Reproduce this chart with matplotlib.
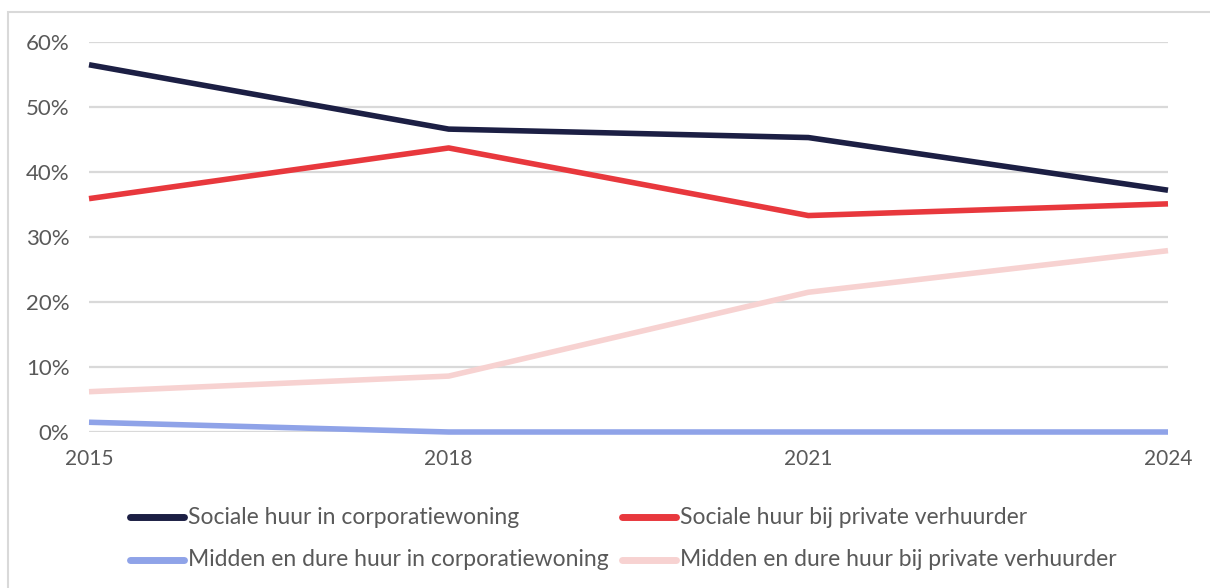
import matplotlib.pyplot as plt
from matplotlib.patches import Rectangle
from matplotlib.lines import Line2D

plt.rcParams['font.family'] = ['Lato', 'DejaVu Sans']

# data (percentages)
jaren = [2015, 2018, 2021, 2024]
sociaal_corp = [56.5, 46.6, 45.3, 37.2]
sociaal_priv = [35.9, 43.7, 33.3, 35.1]
midden_corp = [1.5, 0.0, 0.0, 0.0]
midden_priv = [6.2, 8.6, 21.5, 27.9]

namen = ["Sociale huur in corporatiewoning",
         "Sociale huur bij private verhuurder",
         "Midden en dure huur in corporatiewoning",
         "Midden en dure huur bij private verhuurder"]
kleuren = ["#1c1f44", "#e8383d", "#8fa3e8", "#f7d2d1"]
reeksen = [sociaal_corp, sociaal_priv, midden_corp, midden_priv]

fig = plt.figure(figsize=(12.1, 5.88), dpi=100)
ax = fig.add_axes([89/1210, 1-432/588, (1168-89)/1210, (432-42)/588])

# frame around the figure (partly cut off at right/bottom)
fig.patches.append(Rectangle((8/1210, -0.1), 1.2, 1-12/588+0.1, transform=fig.transFigure,
                             fill=False, edgecolor="#d9d9d9", linewidth=1.5))

for y in range(0, 61, 10):
    ax.axhline(y, color="#d9d9d9", linewidth=1.6, zorder=1)

# draw order: back series first
for i in [3, 2, 1, 0]:
    ax.plot(jaren, reeksen[i], color=kleuren[i], linewidth=4, zorder=3,
            clip_on=False, solid_capstyle="butt")

ax.set_xlim(2015, 2024)
ax.set_ylim(0, 60)
ax.set_xticks(jaren)
ax.set_yticks(range(0, 61, 10))
ax.set_yticklabels([f"{v}%" for v in range(0, 61, 10)])
ax.tick_params(axis="x", length=0, labelsize=15, colors="#595959", pad=12)
ax.tick_params(axis="y", length=0, labelsize=16, colors="#595959", pad=14)
for s in ax.spines.values():
    s.set_visible(False)

# legend built by hand to match the 2x2 layout
posities = [(130, 517), (622, 517), (130, 560), (622, 560)]
for (x0, y0), naam, kl in zip(posities, namen, kleuren):
    fy = 1 - y0/588
    fig.add_artist(Line2D([x0/1210, (x0+54)/1210], [fy, fy], color=kl, linewidth=5,
                          solid_capstyle="round", transform=fig.transFigure))
    fig.text((x0+58)/1210, fy, naam, fontsize=16.5, color="#595959", va="center", ha="left")

fig.savefig("out.png", dpi=100)
